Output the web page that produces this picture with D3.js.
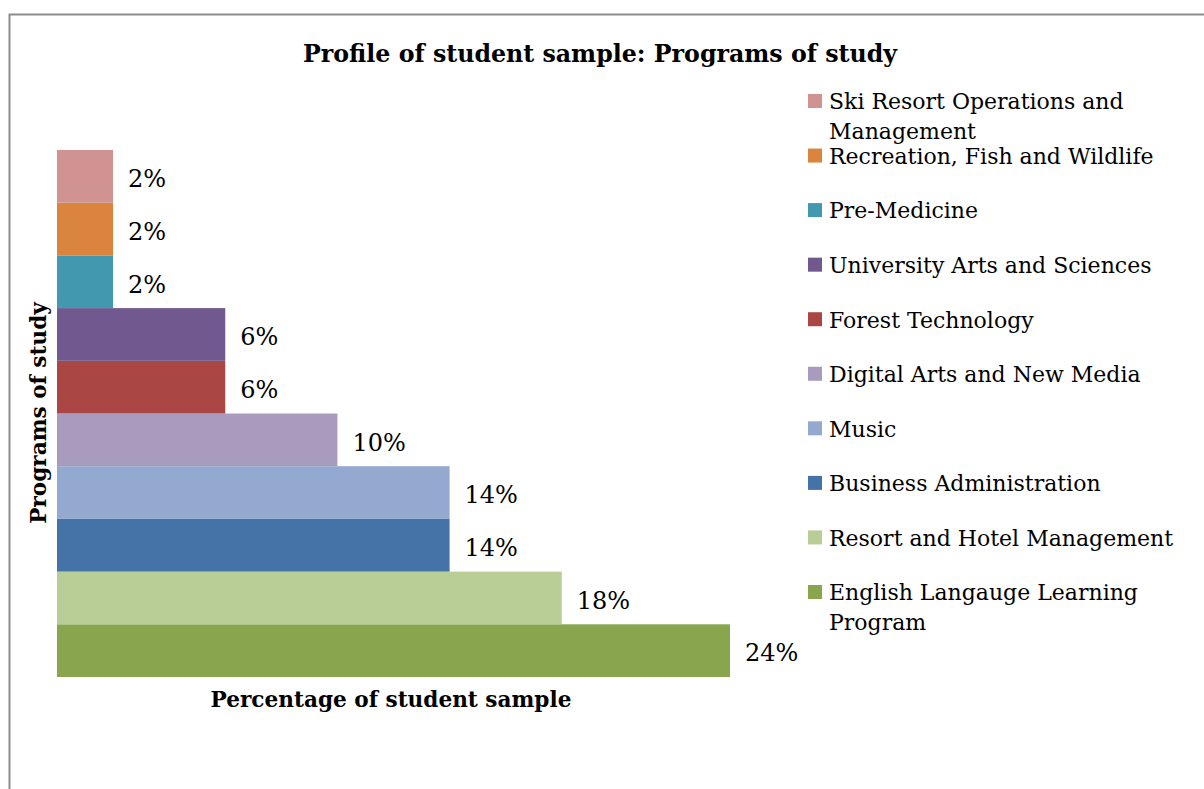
<!DOCTYPE html>
<html>
<head>
<meta charset="utf-8">
<script src="https://cdn.jsdelivr.net/npm/d3@7"></script>
<style>
    body { margin: 0; background: #fff; }
    svg text { font-family: "DejaVu Serif", "Liberation Serif", serif; fill: #000; }
</style>
</head>
<body>
<div id="chart"></div>
<script>
// programs, bottom to top as drawn
const programs = [
    'English Langauge Learning Program',
    'Resort and Hotel Management',
    'Business Administration',
    'Music',
    'Digital Arts and New Media',
    'Forest Technology',
    'University Arts and Sciences',
    'Pre-Medicine',
    'Recreation, Fish and Wildlife',
    'Ski Resort Operations and Management'
];
const percents = [24, 18, 14, 14, 10, 6, 6, 2, 2, 2];
const colors = ['#89A54E', '#B9CD96', '#4572A7', '#93A9CF', '#A99BBD',
    '#AA4643', '#71588F', '#4198AF', '#DB843D', '#D19392'];

const width = 1204, height = 789;

const svg = d3.select('#chart').append('svg')
    .attr('width', width)
    .attr('height', height);

// outer chart border (runs off the right and bottom edges)
svg.append('rect')
    .attr('x', 9.5).attr('y', 14.5)
    .attr('width', 1300).attr('height', 900)
    .attr('fill', 'none')
    .attr('stroke', '#8c8c8c')
    .attr('stroke-width', 2);

svg.append('text')
    .attr('x', 600).attr('y', 62)
    .attr('text-anchor', 'middle')
    .style('font-size', '23.7px')
    .style('font-weight', 'bold')
    .text('Profile of student sample: Programs of study');

const xScale = d3.scaleLinear()
    .domain([0, 24])
    .range([57, 730]);

const yScale = d3.scaleBand()
    .domain(programs)
    .range([677, 150])
    .padding(0);

const color = d3.scaleOrdinal()
    .domain(programs)
    .range(colors);

const data = programs.map((p, i) => ({ name: p, value: percents[i] }));

svg.append('g').selectAll('rect')
    .data(data)
    .join('rect')
    .attr('x', xScale(0))
    .attr('y', d => yScale(d.name))
    .attr('width', d => xScale(d.value) - xScale(0))
    .attr('height', yScale.bandwidth())
    .attr('fill', d => color(d.name));

svg.append('g').selectAll('text')
    .data(data)
    .join('text')
    .attr('x', d => xScale(d.value) + 15)
    .attr('y', d => yScale(d.name) + yScale.bandwidth() / 2)
    .attr('dy', '0.45em')
    .style('font-size', '24px')
    .text(d => d.value + '%');

// axis titles
svg.append('text')
    .attr('x', 391).attr('y', 707)
    .attr('text-anchor', 'middle')
    .style('font-size', '21.6px')
    .style('font-weight', 'bold')
    .text('Percentage of student sample');

svg.append('text')
    .attr('transform', 'translate(46,413) rotate(-90)')
    .attr('text-anchor', 'middle')
    .style('font-size', '21.6px')
    .style('font-weight', 'bold')
    .text('Programs of study');

// legend, top to bottom
const legendItems = data.slice().reverse();
const legendY = d3.scalePoint()
    .domain(legendItems.map(d => d.name))
    .range([101, 592]);

const legend = svg.append('g').selectAll('g')
    .data(legendItems)
    .join('g')
    .attr('transform', d => `translate(808,${legendY(d.name)})`);

legend.append('rect')
    .attr('x', 0).attr('y', -7)
    .attr('width', 14).attr('height', 14)
    .attr('fill', d => color(d.name));

legend.append('text')
    .attr('x', 21)
    .style('font-size', '22px')
    .each(function(d) {
        const t = d3.select(this);
        const words = d.name.split(' ');
        let line = [];
        let tspan = t.append('tspan').attr('x', 21).attr('dy', '0.38em');
        words.forEach(w => {
            line.push(w);
            tspan.text(line.join(' '));
            if (tspan.node().getComputedTextLength() > 355 && line.length > 1) {
                line.pop();
                tspan.text(line.join(' '));
                line = [w];
                tspan = t.append('tspan').attr('x', 21).attr('dy', '1.36em').text(w);
            }
        });
    });
</script>
</body>
</html>
